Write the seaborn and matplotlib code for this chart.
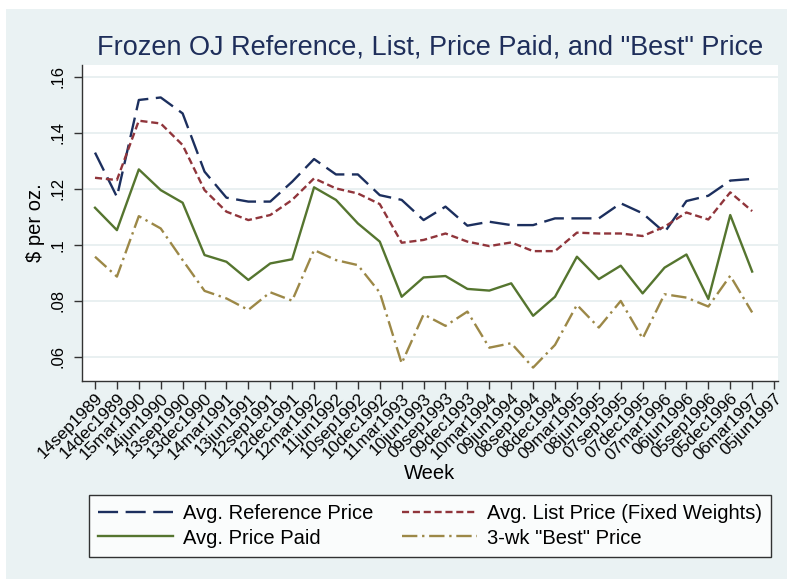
import numpy as np
import pandas as pd
import seaborn as sns
import matplotlib
matplotlib.use("Agg")
from matplotlib import pyplot as plt
from matplotlib.patches import Rectangle

# quarterly tick dates (13 weeks apart)
week_labels = ["14sep1989", "14dec1989", "15mar1990", "14jun1990", "13sep1990", "13dec1990",
               "14mar1991", "13jun1991", "12sep1991", "12dec1991", "12mar1992", "11jun1992",
               "10sep1992", "10dec1992", "11mar1993", "10jun1993", "09sep1993", "09dec1993",
               "10mar1994", "09jun1994", "08sep1994", "08dec1994", "09mar1995", "08jun1995",
               "07sep1995", "07dec1995", "07mar1996", "06jun1996", "05sep1996", "05dec1996",
               "06mar1997", "05jun1997"]

ref_price = [0.1329, 0.1171, 0.1517, 0.1526, 0.1469, 0.1261, 0.1168, 0.1154, 0.1154, 0.1225,
             0.1306, 0.1251, 0.1251, 0.1177, 0.1160, 0.1088, 0.1136, 0.1068, 0.1082, 0.1070,
             0.1070, 0.1094, 0.1094, 0.1094, 0.1148, 0.1112, 0.1044, 0.1156, 0.1175, 0.1229,
             0.1235]
list_price = [0.1239, 0.1231, 0.1443, 0.1433, 0.1356, 0.1195, 0.1118, 0.1088, 0.1106, 0.1160,
              0.1237, 0.1201, 0.1183, 0.1145, 0.1007, 0.1017, 0.1040, 0.1011, 0.0995, 0.1008,
              0.0977, 0.0977, 0.1043, 0.1040, 0.1040, 0.1031, 0.1064, 0.1115, 0.1090, 0.1187,
              0.1120]
paid_price = [0.1132, 0.1052, 0.1269, 0.1195, 0.1150, 0.0963, 0.0939, 0.0874, 0.0933, 0.0948,
              0.1205, 0.1160, 0.1076, 0.1011, 0.0814, 0.0883, 0.0888, 0.0842, 0.0836, 0.0862,
              0.0746, 0.0814, 0.0957, 0.0877, 0.0925, 0.0826, 0.0918, 0.0965, 0.0806, 0.1106,
              0.0904]
best_price = [0.0957, 0.0886, 0.1102, 0.1058, 0.0945, 0.0835, 0.0808, 0.0767, 0.0830, 0.0800,
              0.0981, 0.0945, 0.0927, 0.0829, 0.0576, 0.0751, 0.0710, 0.0761, 0.0632, 0.0648,
              0.0561, 0.0642, 0.0785, 0.0704, 0.0799, 0.0665, 0.0823, 0.0811, 0.0779, 0.0889,
              0.0758]

y_ticks = [0.06, 0.08, 0.10, 0.12, 0.14, 0.16]
y_tick_labels = [".06", ".08", ".1", ".12", ".14", ".16"]

data = pd.DataFrame({"week": np.arange(len(ref_price)), "ref": ref_price, "list": list_price,
                     "paid": paid_price, "best": best_price})

plt.rcParams["font.family"] = ["Liberation Sans", "DejaVu Sans"]
bg = "#EAF2F3"

fig = plt.figure(figsize=(7.87, 5.79), dpi=100)
fig.patch.set_facecolor("white")
fig.patches.append(Rectangle((6 / 787, 0), 1, 570 / 579, transform=fig.transFigure,
                             facecolor=bg, edgecolor="none", zorder=-10))
ax = fig.add_axes([82 / 787, 1 - 381 / 579, 696 / 787, 316 / 579])
ax.set_facecolor("white")

series = [("ref", "Avg. Reference Price", "#1c2f5e", (0, (8.5, 3.2))),
          ("paid", "Avg. Price Paid", "#55752f", "-"),
          ("list", "Avg. List Price (Fixed Weights)", "#90353b", (0, (3.0, 1.6))),
          ("best", '3-wk "Best" Price', "#9c8847", (0, (6.5, 2.0, 1, 2.0)))]
for col, lab, colr, ls in series:
    sns.lineplot(data=data, x="week", y=col, ax=ax, color=colr, linestyle=ls,
                 linewidth=1.7, label=lab, legend=False)

ax.set_xlim(-0.594, 31.18)
ax.set_ylim(0.0513, 0.1642)
ax.set_yticks(y_ticks)
ax.set_yticklabels(y_tick_labels, rotation=90, va="center", fontsize=12)
ax.set_xticks(np.arange(len(week_labels)))
ax.set_xticklabels(week_labels, rotation=45, ha="right", va="top",
                   rotation_mode="anchor", fontsize=12.3)
ax.tick_params(axis="both", length=6, width=1, color="#333333", pad=6)
ax.tick_params(axis="x", pad=1)
ax.grid(axis="y", color="#e3ecee", linewidth=1.1)
ax.set_axisbelow(True)
for s in ["top", "right"]:
    ax.spines[s].set_visible(False)
for s in ["left", "bottom"]:
    ax.spines[s].set_color("#333333")
    ax.spines[s].set_linewidth(1.0)

ax.set_ylabel("$ per oz.", fontsize=14.5, labelpad=4)
ax.set_xlabel("Week", fontsize=14.5, labelpad=1)

fig.text(430 / 787, 1 - 55 / 579, 'Frozen OJ Reference, List, Price Paid, and "Best" Price',
         ha="center", va="baseline", fontsize=19.5, color="#1e2e5a")

handles, labels = ax.get_legend_handles_labels()
leg = fig.legend(handles, labels, ncol=2, loc="center", bbox_to_anchor=(430 / 787, 1 - 526 / 579),
                 fontsize=14.5, frameon=True, fancybox=False, edgecolor="black",
                 handlelength=3.7, handletextpad=0.5, columnspacing=1.45,
                 labelspacing=0.25, borderpad=0.45, borderaxespad=0)
leg.get_frame().set_linewidth(1.0)
leg.get_frame().set_facecolor("white")

fig.savefig("out.png", dpi=100, facecolor=fig.get_facecolor())
